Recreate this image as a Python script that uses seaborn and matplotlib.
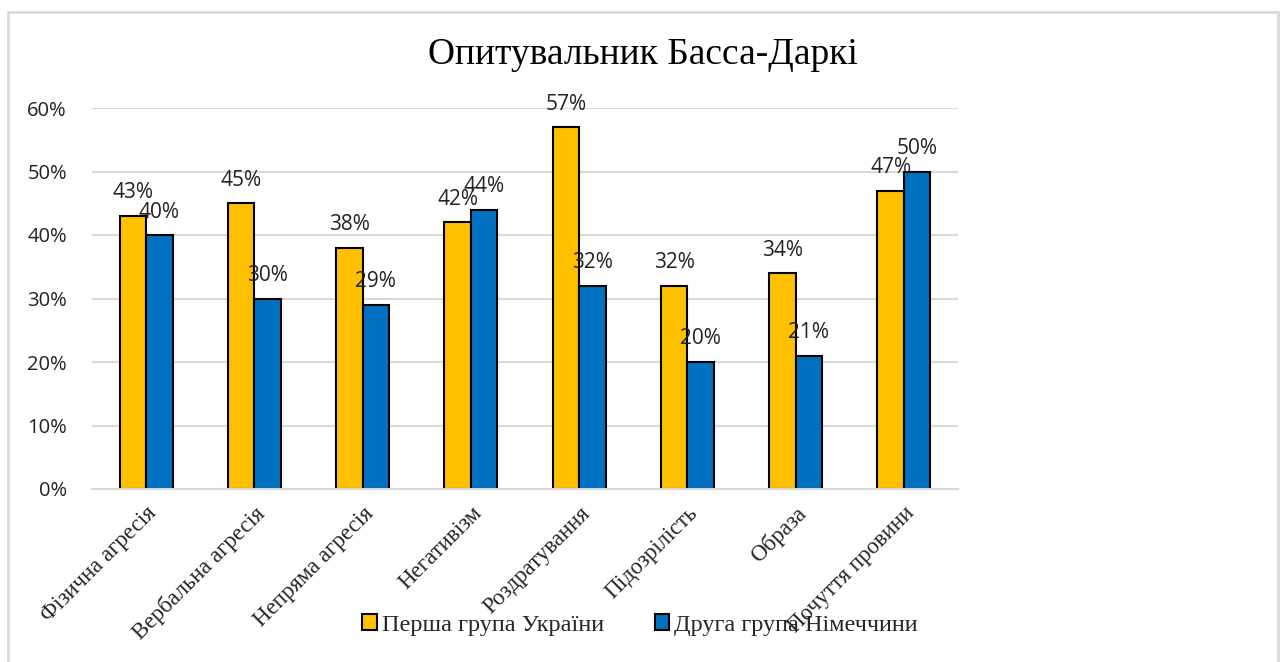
import matplotlib
matplotlib.use("Agg")
import matplotlib.pyplot as plt
import seaborn as sns
import pandas as pd
from matplotlib.patches import Rectangle

categories = ["Фізична агресія", "Вербальна агресія", "Непряма агресія", "Негативізм",
              "Роздратування", "Підозрілість", "Образа", "Почуття провини"]
series_names = ["Перша група України", "Друга група Німеччини"]
ukraine = [43, 45, 38, 42, 57, 32, 34, 47]
germany = [40, 30, 29, 44, 32, 20, 21, 50]
yticks = [0, 10, 20, 30, 40, 50, 60]
title = "Опитувальник Басса-Даркі"
colors = ["#FFC000", "#0070C0"]

df = pd.DataFrame({
    "cat": categories * 2,
    "grp": [series_names[0]] * len(categories) + [series_names[1]] * len(categories),
    "val": ukraine + germany,
})

sns.set_theme(style="white")
serif = ["Liberation Serif", "DejaVu Serif"]
sans = ["Open Sans", "DejaVu Sans"]
plt.rcParams["font.family"] = sans

fig = plt.figure(figsize=(12.83, 6.62), dpi=100)
ax = fig.add_axes([92 / 1283, 1 - 489 / 662, (958 - 92) / 1283, (489 - 108) / 662])

sns.barplot(data=df, x="cat", y="val", hue="grp", palette=colors, width=0.49,
            edgecolor="black", linewidth=1.5, ax=ax, saturation=1, legend=True)

ax.set_ylim(0, 60)
ax.set_yticks(yticks)
ax.set_yticklabels([f"{t}%" for t in yticks], fontsize=14.5, color="#222222")
ax.yaxis.grid(True, color="#D9D9D9", linewidth=1.5)
ax.set_axisbelow(True)
for s in ["top", "right", "left"]:
    ax.spines[s].set_visible(False)
ax.spines["bottom"].set_color("#D9D9D9")
ax.spines["bottom"].set_linewidth(1.5)
ax.tick_params(axis="y", length=0, pad=18)
ax.tick_params(axis="x", length=0, pad=10)
ax.set_xlabel("")
ax.set_ylabel("")
ax.set_xlim(-0.5, len(categories) - 0.5)
ax.set_xticks(range(len(categories)))
ax.set_xticklabels(categories, rotation=45, ha="right", va="top",
                   rotation_mode="anchor", family=serif, fontsize=16.5)

for cont in ax.containers:
    for bar in cont:
        h = bar.get_height()
        ax.annotate(f"{h:.0f}%", (bar.get_x() + bar.get_width() / 2, h),
                    xytext=(0, 9), textcoords="offset points", ha="center",
                    va="bottom", fontsize=15, color="#222222")

handles, labels = ax.get_legend_handles_labels()
ax.legend_.remove()
fig.legend(handles, labels, loc="center", bbox_to_anchor=(640 / 1283, 1 - 625 / 662),
           ncol=2, frameon=False, prop={"family": serif, "size": 17.5},
           handlelength=0.6, handleheight=0.6, handletextpad=0.2, columnspacing=2.1)

fig.text(643 / 1283, 1 - 55 / 662, title, ha="center", va="center",
         family=serif, fontsize=27, color="black")

fig.patches.append(Rectangle((8 / 1283, -0.05), (1278 - 8) / 1283, 1.05 - 12 / 662,
                             transform=fig.transFigure, fill=False,
                             edgecolor="#D9D9D9", linewidth=2, zorder=0))

fig.savefig("out.png", dpi=100, facecolor="white")
